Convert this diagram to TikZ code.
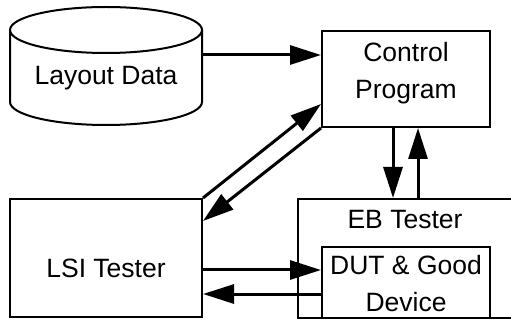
\documentclass[tikz,border=0pt]{standalone}
\usepackage{fontspec}
\setmainfont{Liberation Sans}
\usetikzlibrary{arrows.meta}
\tikzset{
    box/.style={draw, line width=2pt, inner sep=0pt},
    txt/.style={anchor=base, align=center, font=\fontsize{26.5}{36.7}\selectfont},
    arr/.style={->, line width=3pt},
}
\begin{document}
\begin{tikzpicture}[>={Triangle[length=31pt,width=19pt]}, x=1pt, y=1pt]
\useasboundingbox (0,0) rectangle (511,-320);
\clip (0,0) rectangle (511,-320);
% database
\draw[line width=2pt] (106,-30) ellipse [x radius=96, y radius=23];
\draw[line width=2pt] (10,-30)--(10,-102) arc[start angle=180, end angle=360, x radius=96, y radius=23]--(202,-30);
\node[txt] (layout) at (106,-85) {Layout Data};
\coordinate (db) at (202,-55);
% boxes
\node[box, minimum width=168, minimum height=96] (ctrl) at (406,-79) {};
\node[box, minimum width=192, minimum height=118] (lsi) at (106,-258) {};
\node[box, minimum width=242, minimum height=119] (eb) at (419,-258.5) {};
\node[box, minimum width=168, minimum height=71] (dut) at (406,-282.5) {};
\node[txt] (ctrltext) at (406,-98.3) {Control\\Program};
\node[txt] (lsitext) at (106,-277.3) {LSI Tester};
\node[txt] (ebtext) at (405,-228.5) {EB Tester};
\node[txt] (duttext) at (406,-311.7) {DUT \& Good\\Device};
% connectors
\draw[arr] (db)--(db -| ctrl.west);
\draw[arr] (lsi.north east)--([yshift=24pt]ctrl.south west);
\draw[arr] (ctrl.south west)--([yshift=-23pt]lsi.north east);
\foreach \dx/\dir in {-13/->,12/<-}
{
    \draw[arr, \dir] ([xshift=\dx pt]ctrl.south)--([xshift=\dx pt]ctrl.south |- eb.north);
}
\draw[arr] ([yshift=-12pt]lsi.east)--([yshift=-12pt]lsi.east -| dut.west);
\draw[arr] ([yshift=-36pt]lsi.east -| dut.west)--([yshift=-36pt]lsi.east);
\end{tikzpicture}
\end{document}
